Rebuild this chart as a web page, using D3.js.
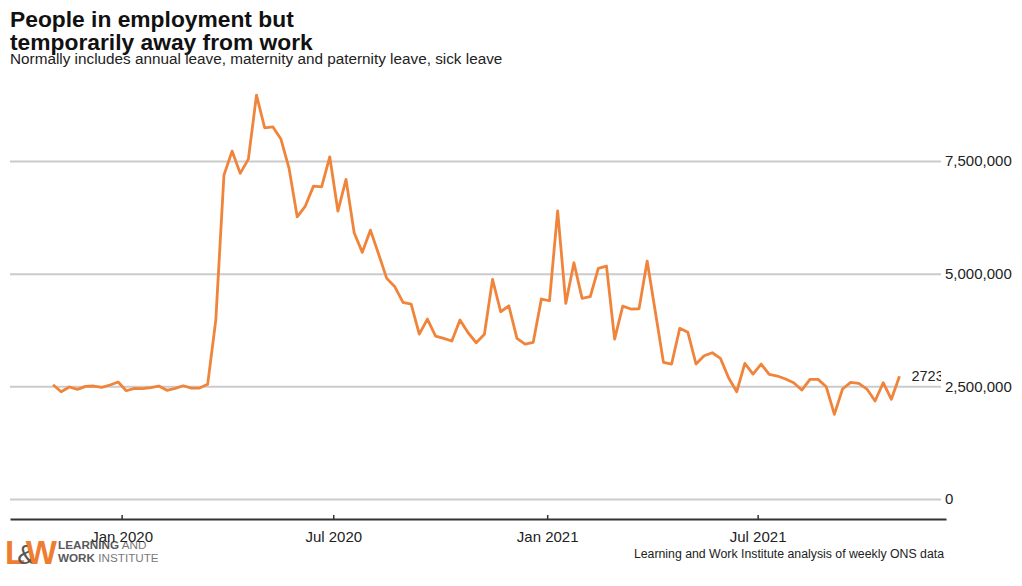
<!DOCTYPE html>
<html>
<head>
<meta charset="utf-8">
<script src="https://cdn.jsdelivr.net/npm/d3@7"></script>
<style>
  body { margin: 0; background: #fff; }
  svg { display: block; font-family: "Liberation Sans", Arial, sans-serif; }
</style>
</head>
<body>
<svg width="1022" height="586"></svg>
<script>
// weekly estimates, thousands of people, first week 3 Nov 2019
var firstWeek = new Date(Date.UTC(2019, 10, 3));
var awayValues = [
  2536, 2380, 2485, 2433, 2500, 2507, 2478, 2529, 2595, 2402,
  2456, 2447, 2469, 2507, 2411, 2456, 2513, 2462, 2462, 2544,
  3971, 7187, 7720, 7225, 7542, 8962, 8237, 8259, 7986, 7336,
  6262, 6500, 6943, 6928, 7593, 6389, 7092, 5907, 5473, 5967,
  5435, 4896, 4709, 4363, 4326, 3660, 3993, 3616, 3565, 3505,
  3971, 3689, 3467, 3654, 4874, 4155, 4288, 3565, 3438, 3476,
  4437, 4399, 6395, 4341, 5242, 4452, 4488, 5118, 5169, 3549,
  4281, 4215, 4222, 5280, 4155, 3032, 2995, 3787, 3698, 2995,
  3179, 3245, 3121, 2691, 2380, 3010, 2773, 2995, 2766, 2729,
  2662, 2580, 2418, 2655, 2655, 2491, 1879, 2440, 2589, 2567,
  2440, 2174, 2580, 2212, 2723
];
var yTicks = [0, 2500000, 5000000, 7500000];
var xDomain = [new Date(Date.UTC(2019, 8, 27)), new Date(Date.UTC(2021, 11, 10))];

var title = ["People in employment but", "temporarily away from work"];
var subtitle = "Normally includes annual leave, maternity and paternity leave, sick leave";
var source = "Learning and Work Institute analysis of weekly ONS data";
var endLabel = "2723000";

var lineColor = "#f0843a";

var data = awayValues.map(function(v, i){
    return { date: d3.utcDay.offset(firstWeek, 7*i), value: v*1000 };
});

var svg = d3.select("svg");

var x = d3.scaleUtc().domain(xDomain).range([10, 946]);
var y = d3.scaleLinear().domain([0, 7500000]).range([499, 161]);
var plotRight = 941;

// titles
svg.append("text")
    .selectAll("tspan")
    .data(title)
    .enter().append("tspan")
    .attr("x", 10)
    .attr("y", function(d, i){ return 27 + i*22.5; })
    .style("font-size", "22.8px")
    .style("font-weight", "bold")
    .style("fill", "#111")
    .text(function(d){ return d; });

svg.append("text")
    .attr("x", 10).attr("y", 63.5)
    .style("font-size", "15.3px")
    .style("fill", "#222")
    .text(subtitle);

// y grid + right labels
var yAxis = svg.append("g")
    .attr("transform", "translate(" + plotRight + ",0)")
    .call(d3.axisRight(y)
        .tickValues(yTicks)
        .tickSize(-(plotRight - 10))
        .tickPadding(4)
        .tickFormat(d3.format(",")));
yAxis.select(".domain").remove();
yAxis.selectAll("line").style("stroke", "#cbcbcb").style("stroke-width", 2);
yAxis.selectAll("text").style("font-size", "15px").style("fill", "#222");

// logo
var logo = svg.append("g");
var lw = logo.append("text")
    .attr("x", 5).attr("y", 564)
    .style("font-size", "33px").style("font-weight", "bold");
lw.append("tspan").style("fill", "#ee7d31").text("L");
lw.append("tspan").attr("dx", -8).style("fill", "#555").style("font-weight", "normal")
    .style("font-size", "28px").text("&");
lw.append("tspan").attr("dx", -10).style("fill", "#ee7d31").text("W");
var l1 = logo.append("text").attr("x", 58).attr("y", 549).style("font-size", "11.7px");
l1.append("tspan").style("font-weight", "bold").style("fill", "#595959").text("LEARNING");
l1.append("tspan").style("fill", "#7a7a7a").text(" AND");
var l2 = logo.append("text").attr("x", 58).attr("y", 562).style("font-size", "11.7px");
l2.append("tspan").style("font-weight", "bold").style("fill", "#595959").text("WORK");
l2.append("tspan").style("fill", "#7a7a7a").text(" INSTITUTE");

// x axis
var xAxis = svg.append("g")
    .attr("transform", "translate(0,519)")
    .call(d3.axisBottom(x)
        .ticks(d3.utcMonth.every(6))
        .tickFormat(d3.utcFormat("%b %Y"))
        .tickSizeInner(-4)
        .tickSizeOuter(0)
        .tickPadding(12));
xAxis.select(".domain").style("stroke", "#333").style("stroke-width", 2);
xAxis.selectAll("line").style("stroke", "#333").style("stroke-width", 1.5);
xAxis.selectAll("text").style("font-size", "15px").style("fill", "#222");

// line
svg.append("clipPath").attr("id", "plotclip")
    .append("rect").attr("x", 0).attr("y", 0).attr("width", plotRight).attr("height", 586);

var line = d3.line()
    .x(function(d){ return x(d.date); })
    .y(function(d){ return y(d.value); });

svg.append("path")
    .datum(data)
    .attr("d", line)
    .style("fill", "none")
    .style("stroke", lineColor)
    .style("stroke-width", 2.8)
    .style("stroke-linejoin", "round");

var last = data[data.length - 1];
svg.append("text")
    .attr("clip-path", "url(#plotclip)")
    .attr("x", x(last.date) + 12)
    .attr("y", y(last.value))
    .attr("dy", "0.35em")
    .style("font-size", "14.5px")
    .style("fill", "#222")
    .text(endLabel);

// source
svg.append("text")
    .attr("x", 944).attr("y", 558)
    .attr("text-anchor", "end")
    .style("font-size", "12.3px")
    .style("fill", "#222")
    .text(source);
</script>
</body>
</html>
